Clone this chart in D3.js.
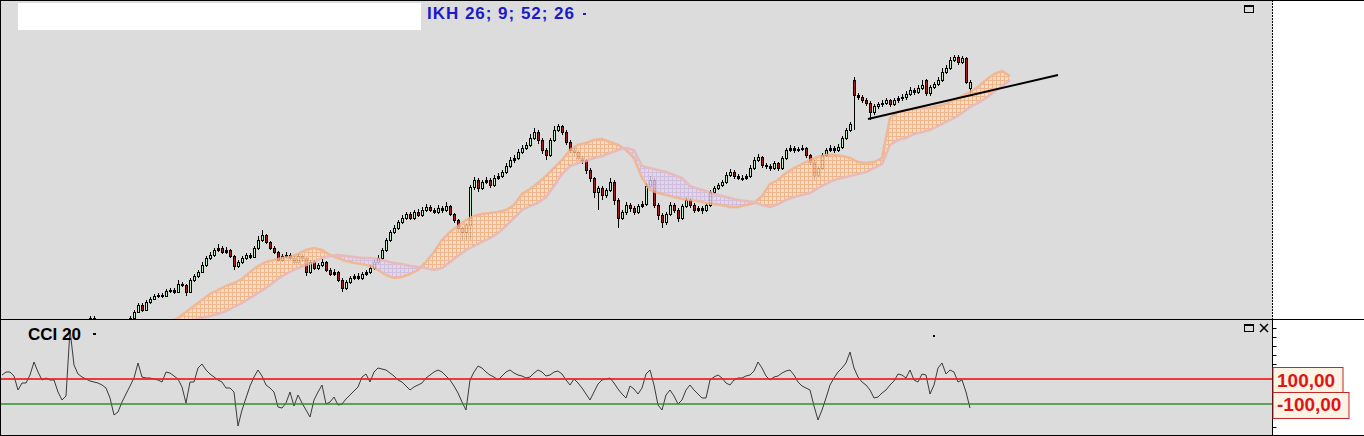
<!DOCTYPE html>
<html><head><meta charset="utf-8">
<script src="https://cdn.jsdelivr.net/npm/d3@7"></script>
<style>html,body{margin:0;padding:0;background:#fff;overflow:hidden}svg{display:block}</style>
</head><body>
<script>
// ---------- DATA (price units) ----------
const opens=[-27,-25,-22,-24,-20,-23,-21,-22,-18,-14,
-18,-20,-19,-20,-19,-25,-30,-29,-10,-6,
-5,-7,-5,2,0,-4,-6,-8,-15,-18,
-13,-7,-2,2,8,15,10,18,21,24,
25,24,29,30,28,36,35,28,40,44,
48,55,62,65,70,72,68,70,64,54,
58,62,65,63,72,80,85,78,72,68,
60,64,65,62,58,64,62,48,58,52,
55,58,50,46,48,40,32,38,42,44,
42,46,48,52,58,62,70,80,88,92,
98,102,106,102,108,105,110,113,110,108,
112,110,114,106,100,92,88,95,133,140,
132,138,140,135,142,144,148,154,160,162,
168,172,175,182,188,180,170,165,180,190,
194,188,178,170,168,162,160,150,142,128,
132,125,130,138,120,102,108,115,112,108,
114,116,134,140,115,105,98,106,115,110,
102,114,120,115,110,112,110,115,128,132,
135,138,145,148,144,142,142,144,152,160,
163,155,154,152,157,152,162,170,172,170,
171,172,165,158,145,152,165,170,172,170,
173,182,190,240,225,223,220,217,208,214,
216,217,220,216,220,222,223,226,230,228,
232,240,227,233,236,240,248,252,260,263,
258,262,232];
const closes=[-25,-22,-24,-20,-23,-21,-22,-18,-14,-18,
-20,-19,-20,-19,-25,-30,-29,-10,-6,-5,
-7,-5,2,0,-4,-6,-8,-15,-18,-13,
-7,-2,2,8,15,10,18,21,24,25,
24,29,30,28,36,35,28,40,44,48,
55,62,65,70,72,68,70,64,54,58,
62,65,63,72,80,85,78,72,68,60,
64,65,62,58,64,62,48,58,52,55,
58,50,46,48,40,32,38,42,44,42,
46,48,52,58,62,70,80,88,92,98,
102,106,102,108,105,110,113,110,108,112,
110,114,106,100,92,88,95,133,140,132,
138,140,135,142,144,148,154,160,162,168,
172,175,182,188,180,170,165,180,190,194,
188,178,170,168,162,160,150,142,128,132,
125,130,138,120,102,108,115,112,108,114,
116,134,140,115,105,98,106,115,110,102,
114,120,115,110,112,110,115,128,132,135,
138,145,148,144,142,142,144,152,160,163,
155,154,152,157,152,162,170,172,170,171,
172,165,158,145,152,165,170,172,170,173,
182,190,196,225,223,220,217,208,214,216,
217,220,216,220,222,223,226,230,228,232,
235,227,233,236,240,248,252,260,263,258,
262,238,238];
const highs=[-23,-20,-20,-18,-19,-19,-19,-16,-12,-13,
-16,-17,-17,-17,-18,-24,-27,-8,-4,-3,
-3,-3,4,4,1,-3,-5,-7,-13,-11,
-5,0,4,10,17,17,20,23,26,27,
27,31,32,32,40,38,36,42,46,50,
58,64,68,72,76,74,73,71,65,60,
64,67,67,74,84,90,86,79,74,69,
66,68,67,64,66,66,63,60,60,57,
61,59,52,51,49,42,40,44,46,47,
48,50,55,60,65,72,82,90,95,100,
105,108,108,110,111,113,116,115,112,115,
114,118,115,107,101,94,97,135,143,142,
140,143,142,145,147,150,157,163,165,171,
175,178,186,192,190,182,172,182,194,196,
195,190,180,172,170,164,161,152,143,134,
134,132,142,140,122,110,118,117,114,116,
119,137,144,142,117,107,108,118,117,112,
116,123,122,117,114,114,117,130,134,137,
140,148,151,150,146,145,146,155,163,166,
164,157,156,159,158,164,172,175,174,173,
175,173,166,160,154,167,172,175,174,176,
184,192,198,243,227,225,222,219,216,218,
220,222,221,222,224,226,229,233,232,235,
240,241,235,238,243,252,255,263,265,265,
264,263,240];
const lows=[-29,-26,-26,-25,-25,-24,-24,-23,-20,-20,
-22,-22,-22,-21,-27,-33,-32,-30,-11,-8,
-9,-9,-6,-2,-6,-8,-10,-17,-20,-19,
-14,-8,-3,1,7,8,9,16,20,22,
22,23,27,26,27,33,24,27,38,42,
47,53,60,63,68,66,66,62,50,52,
56,60,61,62,70,78,76,70,66,58,
58,62,60,56,56,58,44,46,50,50,
53,48,44,44,38,28,30,36,40,40,
40,44,46,50,56,60,68,78,86,90,
96,100,100,100,103,103,108,108,106,106,
107,108,104,97,88,80,80,80,130,128,
130,136,132,133,140,142,146,152,157,160,
166,170,173,180,176,166,160,163,178,188,
185,175,167,164,160,156,146,138,122,110,
120,122,128,115,92,100,105,108,105,106,
112,114,132,112,100,92,95,104,107,98,
100,112,112,107,108,106,108,113,126,130,
133,136,143,141,140,139,140,142,150,158,
152,151,149,150,149,150,160,168,167,168,
169,162,155,140,143,150,163,168,167,168,
171,180,188,190,220,217,214,200,205,211,
213,215,213,214,217,219,220,224,225,226,
230,224,224,231,234,238,246,250,258,255,
256,236,225];
// CCI(20) per bar
const cci=[132,156,156,124,12,68,68,132,236,156,
92,108,92,92,-4,-68,-36,492,212,140,
116,100,84,76,68,52,28,-52,-188,-164,
-84,-20,44,108,228,116,108,108,100,92,
76,156,148,124,100,36,-92,76,76,188,
220,172,140,116,92,76,28,28,-4,-276,
-148,-52,44,116,172,124,52,28,-4,-124,
-132,-92,-4,-116,-28,-92,-148,-204,-68,-4,
52,-100,-84,-44,-108,-100,-60,-28,4,36,
116,140,76,156,188,180,172,148,124,92,
76,44,12,36,52,68,108,132,156,172,
156,124,92,44,-12,-84,-148,92,156,204,
188,156,132,116,92,124,156,172,148,132,
124,108,116,148,172,156,124,132,156,164,
140,92,52,100,68,28,-20,-68,-4,60,
92,100,108,68,20,-20,-52,44,20,-20,
28,140,172,52,-108,-148,-28,12,-36,-100,
-68,12,52,12,-20,-52,-52,92,116,132,
108,68,52,92,108,108,124,132,164,236,
188,124,92,116,124,148,164,172,132,76,
44,28,12,-116,-228,-148,-52,52,108,156,
188,228,316,188,116,76,52,12,-52,-44,
-12,12,52,84,140,132,108,172,92,76,
140,132,-20,52,188,228,140,172,156,76,
92,-4,-132];
// Ichimoku cloud spans, every 2nd bar starting at bar 42 (shifted forward)
const cloudStartBar=42, cloudStep=2;
const spanA=[-2,2,8,14,20,26,30,34,37,41,
48,54,58,60,62,63,66,70,72,70,
65,62,59,57,56,54,50,45,42,43,
46,50,58,68,80,88,94,100,104,106,
107,108,110,115,126,131,137,144,152,160,
170,175,177,180,181,178,175,170,162,142,
130,127,125,123,121,120,119,117,116,115,
113,113,115,117,124,136,140,147,152,156,
160,163,165,165,164,162,158,157,158,162,
202,208,210,211,212,212,214,216,220,224,
228,233,240,246,249,244];
const spanB=[-12,-8,-4,0,2,4,6,9,13,17,
22,27,32,38,44,48,52,55,58,62,
64,65,64,63,62,62,61,59,57,56,
54,53,52,50,52,58,64,70,74,78,
82,87,94,102,110,114,117,123,134,146,
154,157,159,162,164,167,170,172,170,154,
152,150,148,145,142,134,131,129,126,124,
122,120,119,118,115,113,116,120,123,125,
127,132,136,140,142,144,146,148,152,156,
175,180,182,186,188,190,194,198,202,207,
213,217,222,228,234,240];
const trendLine=[{bar:216.5,price:201},{bar:264,price:245}];
const cciLevels=[100,-100];
const cciLevelColors=["#f01c1c","#238a23"];
const cciLevelLabels=["100,00","-100,00"];
const cciTicks=[508,436,364,292,220,148,76,4,-68,-140,-212,-284];
const titleText="IKH 26; 9; 52; 26";
const cciTitle="CCI 20";

// ---------- LAYOUT ----------
const W=1364,H=436, axisX=1272.5, mainBot=319.5, cciTop=320, cciBot=435;
const svg=d3.select('body').append('svg').attr('width',W).attr('height',H)
  .style('font-family','"Liberation Sans", Arial, sans-serif');
const defs=svg.append('defs');
svg.append('rect').attr('width',W).attr('height',H).attr('fill','#ffffff');
svg.append('rect').attr('x',0).attr('y',0).attr('width',axisX).attr('height',H).attr('fill','#dcdcdc');

const x=d3.scaleLinear().domain([0,242]).range([2,970]);
const yP=d3.scaleLinear().domain([0,320]).range([320,0]);
const yC=d3.scaleLinear().domain([-100,100]).range([404,379]);

defs.append('clipPath').attr('id','clipMain').append('rect').attr('x',0).attr('y',0).attr('width',axisX).attr('height',mainBot);
defs.append('clipPath').attr('id','clipCci').append('rect').attr('x',0).attr('y',cciTop).attr('width',axisX).attr('height',cciBot-cciTop);

function pat(id,bg,ln){
  const p=defs.append('pattern').attr('id',id).attr('patternUnits','userSpaceOnUse').attr('width',4).attr('height',4);
  p.append('rect').attr('width',4).attr('height',4).attr('fill',bg);
  p.append('rect').attr('width',4).attr('height',1).attr('fill',ln);
  p.append('rect').attr('width',1).attr('height',4).attr('fill',ln);
}
pat('pBull','#fbdcc2','#f4ae7a');
pat('pBear','#e2d6ee','#cdb8de');

const main=svg.append('g').attr('clip-path','url(#clipMain)');

// candles
const gC=main.append('g');
closes.forEach((c,i)=>{
  const o=opens[i],h=highs[i],l=lows[i];
  const cx=Math.round(x(i));
  gC.append('rect').attr('x',cx).attr('y',yP(h)).attr('width',1).attr('height',Math.max(1,yP(l)-yP(h))).attr('fill','#000');
  const top=yP(Math.max(o,c)),bot=yP(Math.min(o,c));
  const hgt=Math.max(1,bot-top);
  gC.append('rect').attr('x',cx-1).attr('y',top).attr('width',3).attr('height',hgt+1).attr('fill','#000');
  if(hgt>2) gC.append('rect').attr('x',cx).attr('y',top+1).attr('width',1).attr('height',hgt-1)
    .attr('fill',c>=o?'#bfeebf':'#a81c1c');
});

// cloud
const cloudPts=spanA.map((a,k)=>({bar:cloudStartBar+k*cloudStep,a,b:spanB[k]}));
defs.append('clipPath').attr('id','clipAboveB').append('path')
  .attr('d',d3.area().x(d=>x(d.bar)).y0(-50).y1(d=>yP(d.b))(cloudPts));
defs.append('clipPath').attr('id','clipBelowB').append('path')
  .attr('d',d3.area().x(d=>x(d.bar)).y0(d=>yP(d.b)).y1(600)(cloudPts));
const band=d3.area().x(d=>x(d.bar)).y0(d=>yP(d.a)).y1(d=>yP(d.b));
const gCloud=main.append('g').attr('opacity',0.82);
gCloud.append('g').attr('clip-path','url(#clipAboveB)').append('path').attr('d',band(cloudPts)).attr('fill','url(#pBull)');
gCloud.append('g').attr('clip-path','url(#clipBelowB)').append('path').attr('d',band(cloudPts)).attr('fill','url(#pBear)');
gCloud.append('path').attr('d',d3.line().x(d=>x(d.bar)).y(d=>yP(d.a))(cloudPts)).attr('fill','none').attr('stroke','#f5b085').attr('stroke-width',2.5);
gCloud.append('path').attr('d',d3.line().x(d=>x(d.bar)).y(d=>yP(d.b))(cloudPts)).attr('fill','none').attr('stroke','#eab4b4').attr('stroke-width',2.5);

// trend line
main.append('path').attr('d',d3.line().x(d=>x(d.bar)).y(d=>yP(d.price))(trendLine))
  .attr('stroke','#000').attr('stroke-width',2).attr('fill','none');

// title
svg.append('rect').attr('x',18).attr('y',3).attr('width',403).attr('height',27).attr('fill','#fff');
svg.append('text').attr('x',427).attr('y',19).attr('font-size',17).attr('font-weight','bold').attr('fill','#1a1ac8')
  .attr('textLength',147).attr('lengthAdjust','spacing').text(titleText);
svg.append('rect').attr('x',583).attr('y',13).attr('width',3).attr('height',2).attr('fill','#1a1ac8');

// CCI panel
const cg=svg.append('g').attr('clip-path','url(#clipCci)');
cg.append('path').attr('d',d3.line().x((d,i)=>x(i)).y(d=>yC(d))(cci)).attr('fill','none').attr('stroke','#3a3a3a').attr('stroke-width',1);
cciLevels.forEach((v,i)=>{
  cg.append('rect').attr('x',0).attr('width',axisX).attr('y',Math.round(yC(v))-1).attr('height',2)
    .attr('fill',cciLevelColors[i]).attr('opacity',i===0?0.85:0.7);
});
cg.append('rect').attr('x',933).attr('y',335).attr('width',2).attr('height',2).attr('fill','#000');

svg.append('text').attr('x',28).attr('y',340).attr('font-size',17).attr('font-weight','bold').attr('fill','#000').text(cciTitle);
svg.append('rect').attr('x',93).attr('y',333).attr('width',3).attr('height',2).attr('fill','#000');

// frames & axes
svg.append('line').attr('x1',0).attr('x2',W).attr('y1',mainBot).attr('y2',mainBot).attr('stroke','#000');
svg.append('line').attr('x1',0).attr('x2',W).attr('y1',0.5).attr('y2',0.5).attr('stroke','#000');
svg.append('line').attr('x1',0).attr('x2',W).attr('y1',H-0.5).attr('y2',H-0.5).attr('stroke','#000');
svg.append('line').attr('x1',0.5).attr('x2',0.5).attr('y1',0).attr('y2',H).attr('stroke','#000');
svg.append('line').attr('x1',axisX).attr('x2',axisX).attr('y1',0).attr('y2',mainBot).attr('stroke','#000').attr('stroke-dasharray','2,1');
svg.append('line').attr('x1',axisX).attr('x2',axisX).attr('y1',cciTop).attr('y2',H).attr('stroke','#000');
const axC=d3.axisRight(yC).tickValues(cciTicks).tickSize(4).tickFormat('');
svg.append('g').attr('transform',`translate(${axisX},0)`).call(axC).call(g=>g.select('.domain').remove());

// level labels
cciLevels.forEach((v,i)=>{
  const w=i===0?70:76;
  const top=i===0?367:392;
  svg.append('rect').attr('x',axisX+0.5).attr('y',top+0.5).attr('width',w).attr('height',i===0?25:26)
    .attr('fill','#fdf3e4').attr('stroke','#c0282a');
  svg.append('text').attr('x',1277).attr('y',i===0?387:411).attr('font-size',19).attr('font-weight','bold')
    .attr('fill','#e01414').text(cciLevelLabels[i]);
});

// window icons
function winIcon(x0,y0){
  svg.append('rect').attr('x',x0+0.5).attr('y',y0+0.5).attr('width',9).attr('height',7).attr('fill','none').attr('stroke','#000');
  svg.append('rect').attr('x',x0).attr('y',y0).attr('width',10).attr('height',2).attr('fill','#000');
}
winIcon(1244,5); winIcon(1244,324);
svg.append('path').attr('d','M1260,324 L1268,332 M1268,324 L1260,332').attr('stroke','#000').attr('stroke-width',1.5);
</script>
</body></html>
